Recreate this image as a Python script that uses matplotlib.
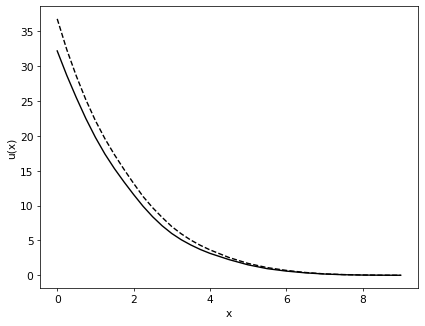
import matplotlib
matplotlib.use('Agg')
import matplotlib.pyplot as plt

plt.rcParams['font.size'] = 11.5

# 读取的曲线数值
x = [0.0, 0.25, 0.5, 0.75, 1.0, 1.25, 1.5, 1.75, 2.0, 2.25, 2.5, 2.75,
     3.0, 3.25, 3.5, 3.75, 4.0, 4.5, 5.0, 5.5, 6.0, 6.5, 7.0, 7.5, 8.0, 8.5, 9.0]
u_solid = [32.2, 28.7, 25.5, 22.5, 19.8, 17.4, 15.3, 13.4, 11.6, 9.9, 8.4, 7.1,
           6.0, 5.1, 4.35, 3.7, 3.15, 2.25, 1.5, 0.95, 0.6, 0.35, 0.18, 0.08, 0.03, 0.01, 0.0]
u_dashed = [36.8, 32.4, 28.6, 25.2, 22.2, 19.6, 17.3, 15.2, 13.2, 11.3, 9.7, 8.3,
            7.0, 5.95, 5.05, 4.3, 3.65, 2.55, 1.7, 1.1, 0.7, 0.4, 0.2, 0.1, 0.04, 0.01, 0.0]

fig, ax = plt.subplots(figsize=(6.4, 4.91), dpi=66.56)
ax.plot(x, u_solid, 'k-')
ax.plot(x, u_dashed, 'k--')
ax.set_xlabel('x')
ax.set_ylabel('u(x)')
fig.subplots_adjust(left=0.094, right=0.981, top=0.979, bottom=0.116)
fig.savefig('out.png', dpi=66.56)
plt.close(fig)
